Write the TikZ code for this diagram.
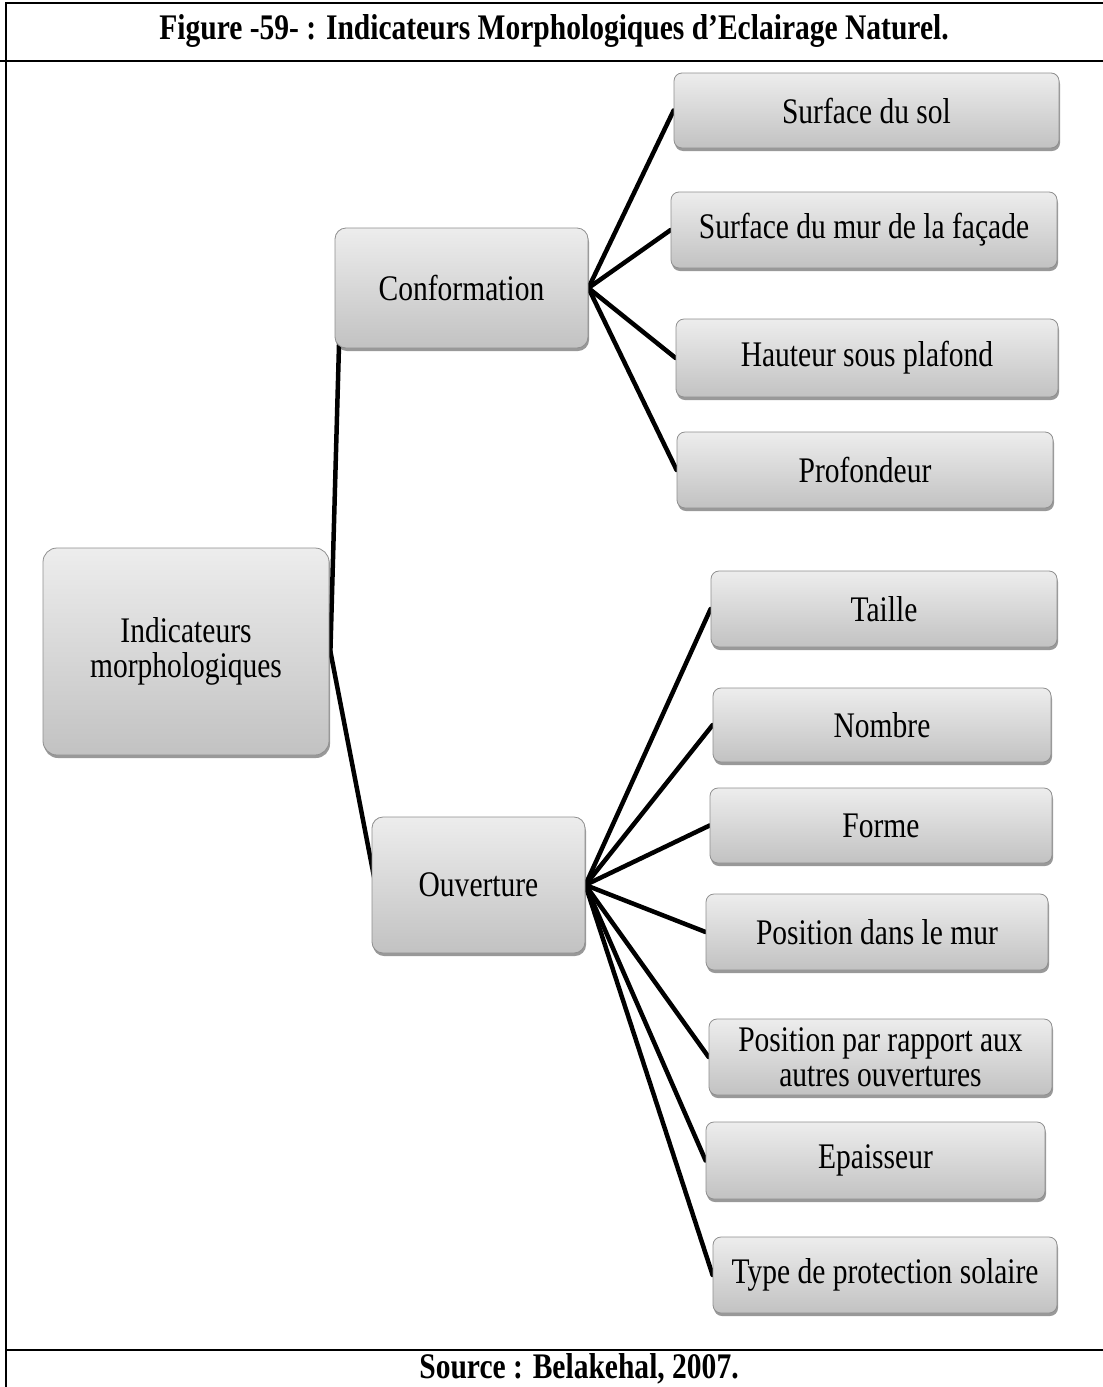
\documentclass[tikz,border=0pt]{standalone}
\usepackage{fontspec}
\setmainfont[FakeStretch=0.82]{Liberation Serif}
\usetikzlibrary{shadows,backgrounds}
\definecolor{boxtop}{HTML}{EDEDED}
\definecolor{boxbot}{HTML}{C2C2C2}
\definecolor{boxline}{HTML}{8F8F8F}
\tikzset{
  box/.style={rounded corners=8pt, draw=boxline, line width=0.8pt,
    top color=boxtop, bottom color=boxbot,
    drop shadow={shadow xshift=1pt, shadow yshift=-3pt, opacity=0.4, fill=black},
    font=\fontsize{36}{35}\selectfont, align=center, inner sep=0pt, text=black},
  bigbox/.style={box, rounded corners=14pt},
  conn/.style={line width=4.5pt, black, line cap=round},
  frame/.style={line width=2pt, black},
  caption/.style={font=\fontsize{36}{38}\selectfont\bfseries, inner sep=0pt}
}
\begin{document}
\begin{tikzpicture}[x=1pt,y=-1pt]
\useasboundingbox (0,0) rectangle (1103,1387);
% frame
\coordinate (tl) at (6,3);
\coordinate (tr) at (1103,3);
\coordinate (hl) at (0,61);
\coordinate (hr) at (1103,61);
\coordinate (fl) at (6,1350);
\coordinate (fr) at (1103,1350);
\coordinate (bl) at (6,1387);
\draw[frame] (tr) -- (tl) -- (bl);
\draw[frame] (hl) -- (hr);
\draw[frame] (fl) -- (fr);
\node[caption] (title) at (554,31) {Figure -59- : Indicateurs Morphologiques d’Eclairage Naturel.};
\node[caption] (source) at (579,1369) {Source : Belakehal, 2007.};
% main nodes
\node[bigbox, minimum width=286, minimum height=207] (root) at (186,651.5) {Indicateurs\\morphologiques};
\node[bigbox, rounded corners=11pt, minimum width=253, minimum height=120] (conf) at (461.5,288) {Conformation};
\node[bigbox, rounded corners=11pt, minimum width=213, minimum height=136] (ouv) at (478.5,885) {Ouverture};
% conformation children
\node[box, minimum width=385, minimum height=75] (c1) at (866.5,110.5) {Surface du sol};
\node[box, minimum width=386, minimum height=76] (c2) at (864,230) {Surface du mur de la façade};
\node[box, minimum width=382, minimum height=78] (c3) at (867,358) {Hauteur sous plafond};
\node[box, minimum width=376, minimum height=76] (c4) at (865,470) {Profondeur};
% ouverture children
\node[box, minimum width=346, minimum height=76] (o1) at (884,609) {Taille};
\node[box, minimum width=338, minimum height=74] (o2) at (882,725) {Nombre};
\node[box, minimum width=342, minimum height=75] (o3) at (881,825.5) {Forme};
\node[box, minimum width=342, minimum height=76] (o4) at (877,932) {Position dans le mur};
\node[box, minimum width=343, minimum height=76] (o5) at (880.5,1057) {Position par rapport aux\\autres ouvertures};
\node[box, minimum width=339, minimum height=77] (o6) at (875.5,1160.5) {Epaisseur};
\node[box, minimum width=344, minimum height=76] (o7) at (885,1275) {Type de protection solaire};
% connectors
\begin{scope}[on background layer]
\fill[white] (0,0) rectangle (1103,1387);
\draw[conn] ([xshift=1pt]root.east) -- ([xshift=6pt]conf.west);
\draw[conn] ([xshift=1pt]root.east) -- ([xshift=4pt]ouv.west);
\foreach \c in {c1,c2,c3,c4} \draw[conn] (conf.east) -- (\c.west);
\foreach \c in {o1,o2,o3,o4,o5,o6,o7} \draw[conn] (ouv.east) -- (\c.west);
\end{scope}
\end{tikzpicture}
\end{document}
